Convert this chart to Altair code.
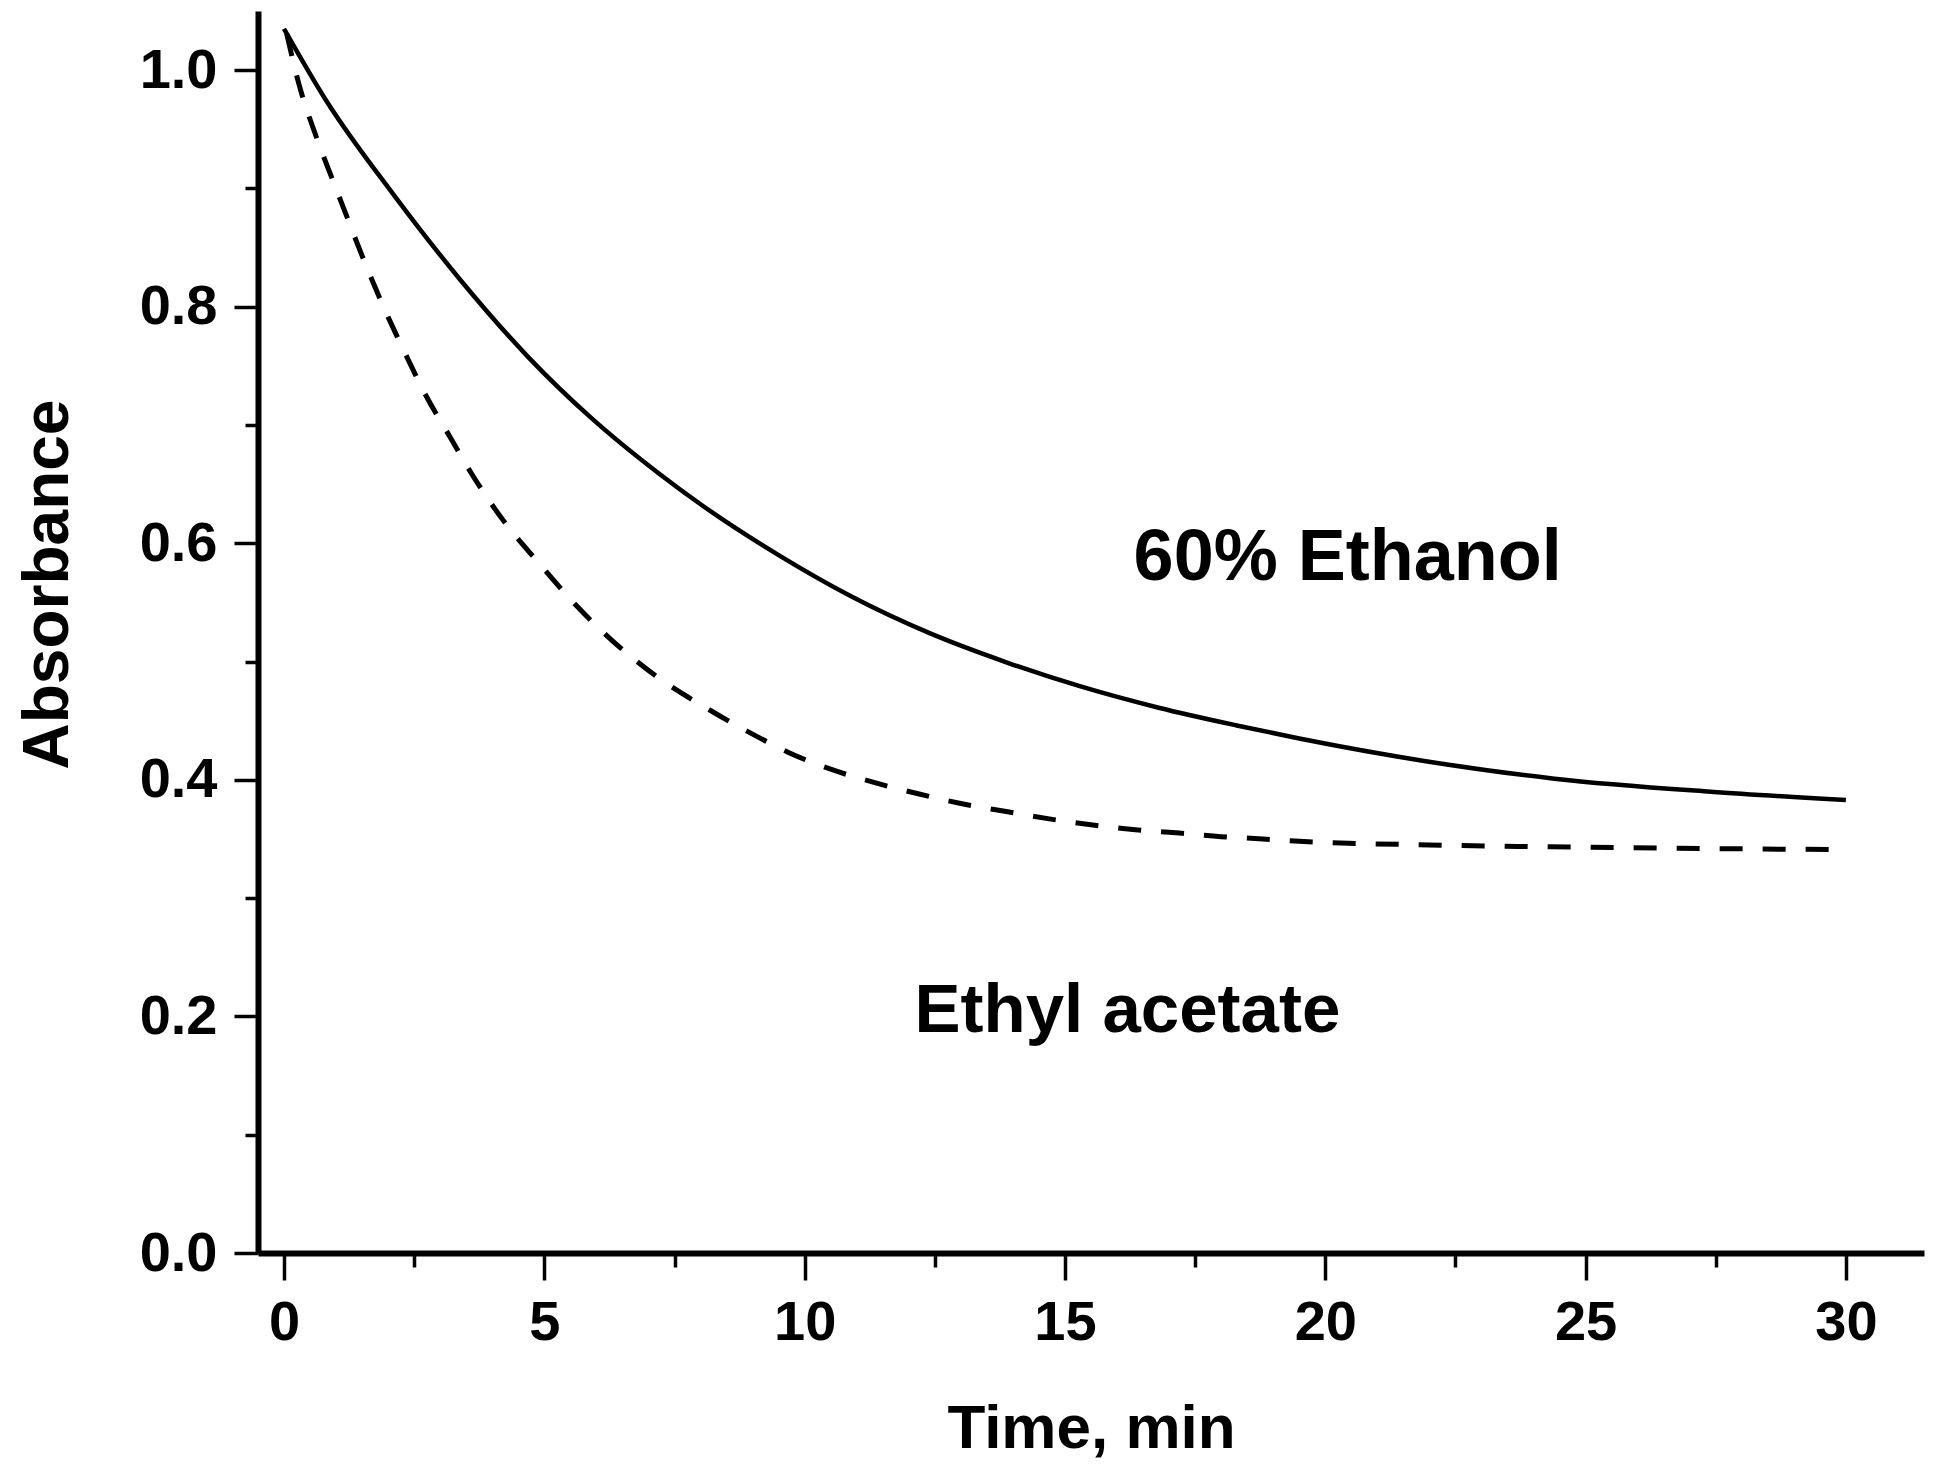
import altair as alt
import pandas as pd

# 60% Ethanol (solid curve)
eth_t = [0.0, 0.8, 2.1, 3.4, 4.7, 5.9, 7.2, 8.0, 9.5, 10.9, 12.4, 13.9, 15.3, 16.8, 18.3, 19.5, 21.9, 24.4, 27.4, 30.0]
eth_a = [1.035, 0.975, 0.895, 0.822, 0.757, 0.706, 0.659, 0.633, 0.590, 0.555, 0.524, 0.499, 0.479, 0.461, 0.446, 0.435, 0.416, 0.401, 0.390, 0.383]

# Ethyl acetate (dashed curve)
ea_t = [0.05, 0.3, 0.6, 0.9, 1.2, 1.5, 1.9, 2.3, 2.7, 3.2, 3.6, 4.2, 4.9, 5.6, 6.4, 7.2, 8.1, 8.9, 9.7, 10.5,
        11.4, 12.2, 13.0, 13.9, 14.7, 15.5, 16.3, 17.2, 18.0, 18.8, 19.5, 22.0, 25.0, 30.0]
ea_a = [1.031, 0.986, 0.946, 0.911, 0.877, 0.843, 0.801, 0.763, 0.727, 0.689, 0.659, 0.620, 0.583, 0.548, 0.514, 0.486,
        0.461, 0.441, 0.423, 0.409, 0.397, 0.388, 0.380, 0.373, 0.367, 0.362, 0.358, 0.355, 0.352, 0.350, 0.348, 0.345,
        0.343, 0.341]

# annotations
label_text = ["60% Ethanol", "Ethyl acetate"]
label_t = [20.43, 16.2]
label_a = [0.569, 0.187]
label_size = [72, 69]

x_major = [0, 5, 10, 15, 20, 25, 30]
x_minor = [2.5, 7.5, 12.5, 17.5, 22.5, 27.5]
y_major = [0.0, 0.2, 0.4, 0.6, 0.8, 1.0]
y_minor = [0.1, 0.3, 0.5, 0.7, 0.9]

FONT = "Liberation Sans"

eth = pd.DataFrame({"t": eth_t, "a": eth_a})
ea = pd.DataFrame({"t": ea_t, "a": ea_a})
lab = pd.DataFrame({"text": label_text, "t": label_t, "a": label_a, "size": label_size})

xs = alt.Scale(domain=[-0.5, 31.5], nice=False, zero=False)
ys = alt.Scale(domain=[0, 1.05], nice=False, zero=False)

x_axis_major = alt.Axis(
    values=x_major, orient="bottom", format="d", grid=False,
    domain=True, domainColor="black", domainWidth=6,
    ticks=True, tickSize=27, tickWidth=3.5, tickColor="black",
    labelFont=FONT, labelFontSize=56, labelFontWeight="bold", labelColor="black",
    labelPadding=15, labelFlush=False, labelOverlap=False,
    title="Time, min", titleFont=FONT, titleFontSize=62, titleFontWeight="bold", titleColor="black",
    titleBaseline="alphabetic", titleAlign="center", titleY=194,
)
y_axis_major = alt.Axis(
    values=y_major, orient="left", format=".1f", grid=False,
    domain=True, domainColor="black", domainWidth=6,
    ticks=True, tickSize=24, tickWidth=3.5, tickColor="black",
    labelFont=FONT, labelFontSize=56, labelFontWeight="bold", labelColor="black",
    labelPadding=17, labelOverlap=False,
    title="Absorbance", titleFont=FONT, titleFontSize=64, titleFontWeight="bold", titleColor="black",
    titleAngle=270, titleBaseline="alphabetic", titleAlign="center", titleX=-191, titleY=573,
)
x_axis_minor = alt.Axis(
    values=x_minor, orient="bottom", grid=False, domain=False, labels=False,
    ticks=True, tickSize=14, tickWidth=3.5, tickColor="black", title="",
)
y_axis_minor = alt.Axis(
    values=y_minor, orient="left", grid=False, domain=False, labels=False,
    ticks=True, tickSize=13, tickWidth=3.5, tickColor="black", title="",
)

solid = alt.Chart(eth).mark_line(color="black", strokeWidth=4.5, interpolate="monotone").encode(
    x=alt.X("t:Q", scale=xs, axis=x_axis_major),
    y=alt.Y("a:Q", scale=ys, axis=y_axis_major),
)
dashed = alt.Chart(ea).mark_line(color="black", strokeWidth=5, strokeDash=[23, 20], interpolate="monotone").encode(
    x=alt.X("t:Q", scale=xs, axis=x_axis_minor),
    y=alt.Y("a:Q", scale=ys, axis=y_axis_minor),
)
texts = alt.Chart(lab).mark_text(
    font=FONT, fontWeight="bold", color="black", align="center", baseline="alphabetic"
).encode(
    x=alt.X("t:Q", scale=xs, axis=None),
    y=alt.Y("a:Q", scale=ys, axis=None),
    text="text:N",
    size=alt.Size("size:Q", scale=None, legend=None),
)

chart = alt.layer(solid, dashed, texts).resolve_axis(x="independent", y="independent").properties(
    width=1666, height=1242,
    autosize=alt.AutoSizeParams(type="none"),
    padding={"left": 250, "top": 3, "right": 10, "bottom": 212},
    background="white",
).configure_view(strokeWidth=0)

chart.save("out.html", embed_options={"renderer": "svg", "actions": False})
